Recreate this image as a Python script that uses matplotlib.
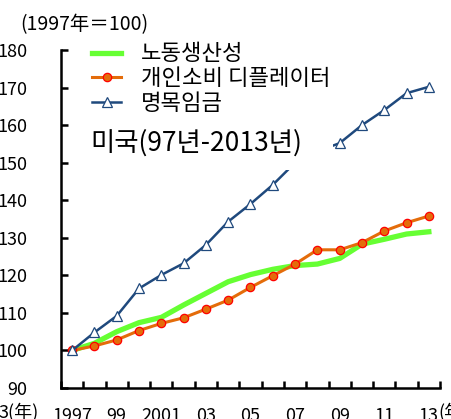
import numpy as np
import matplotlib
matplotlib.use("Agg")
import matplotlib.pyplot as plt
from matplotlib.patches import Rectangle

plt.rcParams['font.family'] = ['Noto Sans CJK KR', 'Noto Sans CJK JP', 'DejaVu Sans']

# 데이터 (1997년=100)
years = list(range(1997, 2014))
tick_labels = ['1997', '99', '2001', '03', '05', '07', '09', '11', '13']
productivity = [100, 101.9, 105.0, 107.4, 108.8, 112.1, 115.2, 118.3, 120.2,
                121.6, 122.6, 123.0, 124.5, 128.3, 129.6, 131.0, 131.6]
deflator = [100, 101.2, 102.8, 105.3, 107.2, 108.7, 111.0, 113.4, 116.8,
            119.9, 123.0, 126.8, 126.8, 128.7, 131.8, 134.0, 135.8]
wage = [100, 104.8, 109.2, 116.5, 120.1, 123.2, 128.1, 134.3, 139.0,
        144.1, 150.0, 153.0, 155.2, 160.0, 164.0, 168.5, 170.2]

x = np.arange(len(years))
W, H = 452, 419

fig = plt.figure(figsize=(W/100, H/100), dpi=100)
ax = fig.add_axes([61/W, 1-388/H, (440-61)/W, (388-50)/H])

ax.plot(x, productivity, color='#66FF33', lw=3.8, label='노동생산성', zorder=2)
ax.plot(x, deflator, color='#E46C0A', lw=2.2, marker='o', ms=6,
        mfc='#E46C0A', mec='#FF0000', mew=0.9, label='개인소비 디플레이터', zorder=3)
ax.plot(x, wage, color='#1F497D', lw=1.8, marker='^', ms=6.5,
        mfc='white', mec='#1F497D', mew=0.9, label='명목임금', zorder=4)

ax.set_xlim(-0.5, len(years) - 0.5)
ax.set_ylim(90, 180)
ax.set_yticks(np.arange(90, 181, 10))

ax.set_xticks(np.arange(-0.5, len(years), 1))
ax.set_xticklabels([])
ax.set_xticks(x[::2], minor=True)
ax.set_xticklabels(tick_labels, minor=True)

ax.tick_params(axis='x', which='major', direction='in', length=5, width=1.8)
ax.tick_params(axis='x', which='minor', length=0, pad=14, labelsize=13)
ax.tick_params(axis='y', direction='in', length=5, width=1.8, pad=24, labelsize=13)

for s in ['top', 'right']:
    ax.spines[s].set_visible(False)
for s in ['left', 'bottom']:
    ax.spines[s].set_linewidth(1.8)

fig.text(20/W, 1-25/H, '(1997年＝100)', fontsize=14, va='center',
         family=['Noto Sans CJK JP', 'DejaVu Sans'])
fig.text(438/W, 1-412/H, '(年)', fontsize=13, va='center', ha='left',
         family=['Noto Sans CJK JP', 'DejaVu Sans'])
fig.text(-2/W, 1-412/H, '3(年)', fontsize=13, va='center', ha='left',
         family=['Noto Sans CJK JP', 'DejaVu Sans'])

leg = ax.legend(loc='upper left', bbox_to_anchor=(88/W, 1-38/H),
                bbox_transform=fig.transFigure, fontsize=16, frameon=True,
                handlelength=1.27, handletextpad=0.9, labelspacing=0.08,
                borderpad=0.2, borderaxespad=0)
leg.get_frame().set_edgecolor('none')
leg.get_frame().set_facecolor('white')
leg.get_frame().set_alpha(1)
leg.set_zorder(10)

# 제목 텍스트 상자 (흰 배경)
fig.patches.append(Rectangle((84/W, 1-170/H), (333-84)/W, (170-122)/H,
                             transform=fig.transFigure, facecolor='white',
                             edgecolor='none', zorder=5))
fig.text(90/W, 1-143/H, '미국(97년-2013년)', fontsize=19, va='center',
         ha='left', zorder=9)

fig.savefig('out.png', dpi=100)
